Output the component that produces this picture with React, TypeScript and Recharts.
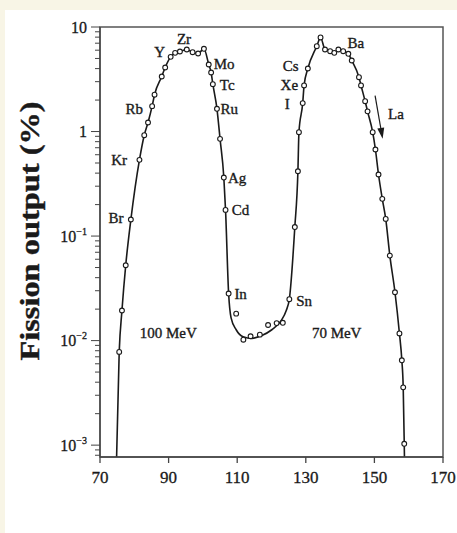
import React from 'react';
import {
  ComposedChart,
  Line,
  Scatter,
  XAxis,
  YAxis,
  ReferenceArea,
  ReferenceDot,
  ReferenceLine,
} from 'recharts';

// Measured points (mass number, fission output %)
const markerMass = [
  75.6, 76.4, 77.5, 79.0, 81.5, 82.9, 84.0, 85.2, 85.9, 88.0, 89.0, 90.6, 91.9, 93.3, 95.3, 97.0,
  98.6, 100.3, 101.7, 102.4, 102.9, 104.1, 105.0, 106.1, 106.6, 107.5, 109.7, 111.8, 113.9, 116.6,
  119.0, 121.5, 123.3, 125.2, 126.8, 127.7, 128.0, 129.1, 129.5, 130.6, 133.2, 134.3, 135.6, 137.1,
  138.3, 139.5, 140.9, 142.4, 143.4, 145.5, 146.1, 147.3, 148.0, 149.5, 150.3, 151.2, 152.3, 153.3,
  154.5, 156.0, 157.3, 158.0, 158.4, 158.7,
];
const markerYield = [
  0.0078, 0.0194, 0.0526, 0.144, 0.536, 0.922, 1.22, 1.75, 2.25, 3.36, 4.1, 5.18, 5.66, 5.83, 6.09,
  5.74, 5.58, 6.19, 4.38, 3.67, 2.84, 1.65, 0.851, 0.363, 0.178, 0.0282, 0.0181, 0.0102, 0.011,
  0.0114, 0.0141, 0.0147, 0.0148, 0.0249, 0.122, 0.417, 0.985, 1.87, 2.76, 4.01, 6.55, 7.94, 6.09,
  5.87, 5.66, 6.09, 5.87, 5.54, 4.78, 3.31, 2.76, 1.95, 1.56, 0.985, 0.673, 0.388, 0.227, 0.146,
  0.065, 0.029, 0.0117, 0.00648, 0.00357, 0.00103,
];

// Fitted curve through the points
const curveMass = [
  74.7, 75.6, 76.4, 77.5, 79.0, 81.5, 82.9, 84.0, 85.2, 85.9, 88.0, 89.0, 90.6, 91.9, 93.3, 95.3,
  97.0, 98.6, 100.3, 101.7, 102.4, 102.9, 104.1, 105.0, 106.1, 106.6, 107.5, 108.2, 109.7, 111.7,
  114.3, 117.2, 120.1, 122.8, 124.3, 125.2, 126.8, 127.7, 128.0, 129.1, 129.5, 130.6, 133.2, 134.3,
  135.6, 137.1, 138.3, 139.5, 140.9, 142.4, 143.4, 145.5, 146.1, 147.3, 148.0, 149.5, 150.3, 151.2,
  152.3, 153.3, 154.5, 156.0, 157.3, 158.0, 158.4, 158.7, 158.85,
];
const curveYield = [
  0.0005, 0.0078, 0.0194, 0.0526, 0.144, 0.536, 0.922, 1.22, 1.75, 2.25, 3.36, 4.1, 5.18, 5.66, 5.83,
  6.09, 5.74, 5.58, 6.19, 4.38, 3.67, 2.84, 1.65, 0.851, 0.363, 0.178, 0.0282, 0.0166, 0.0127,
  0.0109, 0.0105, 0.0112, 0.0127, 0.0155, 0.0194, 0.0249, 0.122, 0.417, 0.985, 1.87, 2.76, 4.01,
  6.55, 7.94, 6.09, 5.87, 5.66, 6.09, 5.87, 5.54, 4.78, 3.31, 2.76, 1.95, 1.56, 0.985, 0.673, 0.388,
  0.227, 0.146, 0.065, 0.029, 0.0117, 0.00648, 0.00357, 0.00103, 0.0005,
];

// Element annotations
const elementNames = [
  'Br', 'Kr', 'Rb', 'Y', 'Zr', 'Mo', 'Tc', 'Ru', 'Ag', 'Cd', 'In', 'Sn', 'Cs', 'Xe', 'I', 'Ba', 'La',
  '100 MeV', '70 MeV',
];
const elementMass = [
  74.7, 75.6, 80.0, 87.4, 94.5, 106.2, 107.1, 107.7, 110.0, 111.0, 111.0, 129.5, 125.6, 125.2, 124.6,
  144.6, 156.3, 89.9, 139.0,
];
const elementYield = [
  0.15, 0.531, 1.65, 5.74, 7.71, 4.38, 2.77, 1.65, 0.361, 0.177, 0.0282, 0.0238, 4.22, 2.76, 1.85,
  7.06, 1.48, 0.01185, 0.01185,
];

// Arrow next to La
const arrowMass = [150.2, 152.4];
const arrowYield = [2.21, 0.851];

// Axes
const xTicks = [70, 90, 110, 130, 150, 170];
const yMajorTicks = [0.001, 0.01, 0.1, 1, 10];
const yTickBase = ['10', '10', '10', '1', '10'];
const yTickExp = ['\u22123', '\u22122', '\u22121', '', ''];
const yMinorTicks = [
  0.0008, 0.0009, 0.002, 0.003, 0.004, 0.005, 0.006, 0.007, 0.008, 0.009, 0.02, 0.03, 0.04, 0.05,
  0.06, 0.07, 0.08, 0.09, 0.2, 0.3, 0.4, 0.5, 0.6, 0.7, 0.8, 0.9, 2, 3, 4, 5, 6, 7, 8, 9,
];
const yMin = 0.00077;
const yMax = 10;
const yTitle = 'Fission output (%)';

const FONT = "'Liberation Serif', 'Times New Roman', serif";
const INK = '#1a1a1a';

const markers = markerMass.map((x, i) => ({ x, y: markerYield[i] }));
const curve = curveMass.map((x, i) => ({ x, y: curveYield[i] }));
const allYTicks = [...yMajorTicks, ...yMinorTicks].sort((a, b) => a - b);

const YTick = (props: any) => {
  const { x, y, payload } = props;
  const v = payload.value;
  const i = yMajorTicks.findIndex((t) => Math.abs(t - v) / t < 1e-6);
  const major = i >= 0;
  return (
    <g>
      <line x1={x} x2={x - (major ? 9 : 5)} y1={y} y2={y} stroke="#444" strokeWidth={1} />
      {major && (
        <text
          x={x - 13}
          y={y}
          dy={5.5}
          textAnchor="end"
          fontFamily={FONT}
          fontSize={16}
          fill={INK}
          stroke={INK}
          strokeWidth={0.3}
        >
          {yTickBase[i]}
          {yTickExp[i] && (
            <tspan dy={-7} fontSize={10}>
              {yTickExp[i]}
            </tspan>
          )}
        </text>
      )}
    </g>
  );
};

const XTick = (props: any) => {
  const { x, y, payload } = props;
  return (
    <text
      x={x}
      y={y + 20}
      textAnchor="middle"
      fontFamily={FONT}
      fontSize={17}
      fill={INK}
      stroke={INK}
      strokeWidth={0.3}
    >
      {payload.value}
    </text>
  );
};

const YTitle = () => (
  <text
    transform="translate(39,231) rotate(-90) scale(1.2,1)"
    textAnchor="middle"
    fontFamily={FONT}
    fontWeight="bold"
    fontSize={27}
    fill={INK}
    stroke={INK}
    strokeWidth={0.4}
  >
    {yTitle}
  </text>
);

const Arrow = (props: any) => {
  const { x1, y1, x2, y2 } = props;
  const dx = x2 - x1;
  const dy = y2 - y1;
  const len = Math.sqrt(dx * dx + dy * dy);
  const ux = dx / len;
  const uy = dy / len;
  const hl = 11;
  const hw = 3.5;
  const bx = x2 - ux * hl;
  const by = y2 - uy * hl;
  return (
    <g>
      <line x1={x1} y1={y1} x2={bx} y2={by} stroke={INK} strokeWidth={1.2} />
      <polygon
        points={`${x2},${y2} ${bx - uy * hw},${by + ux * hw} ${bx + uy * hw},${by - ux * hw}`}
        fill={INK}
      />
    </g>
  );
};

export default function App() {
  return (
    <div
      style={{
        position: 'absolute',
        left: 0,
        top: 0,
        width: 457,
        height: 533,
        background: '#f8f5e6',
      }}
    >
      <div
        style={{ position: 'absolute', left: 5, top: 10, width: 452, height: 523, background: '#ffffff' }}
      />
      <div style={{ position: 'absolute', left: 0, top: 0 }}>
        <ComposedChart
          width={457}
          height={533}
          margin={{ top: 27, right: 14, bottom: 46, left: 40 }}
        >
          <XAxis
            dataKey="x"
            type="number"
            domain={[70, 170]}
            ticks={xTicks}
            interval={0}
            tickSize={6}
            tickMargin={0}
            stroke="#444"
            strokeWidth={1.3}
            tick={<XTick />}
            height={30}
            allowDataOverflow
          />
          <YAxis
            dataKey="y"
            type="number"
            scale="log"
            domain={[yMin, yMax]}
            ticks={allYTicks}
            interval={0}
            tickSize={0}
            tickMargin={0}
            tickLine={false}
            stroke="#444"
            strokeWidth={1.3}
            tick={<YTick />}
            width={60}
            allowDataOverflow
            label={<YTitle />}
          />
          <ReferenceArea
            x1={70}
            x2={170}
            y1={yMin}
            y2={yMax}
            fill="none"
            stroke="#555"
            strokeWidth={1.5}
          />
          <Line
            data={curve}
            dataKey="y"
            type="monotone"
            stroke={INK}
            strokeWidth={1.6}
            dot={false}
            activeDot={false}
            isAnimationActive={false}
          />
          <Scatter
            data={markers}
            dataKey="y"
            isAnimationActive={false}
            shape={(p: any) => (
              <circle cx={p.cx} cy={p.cy} r={2.4} fill="#fff" stroke={INK} strokeWidth={1.1} />
            )}
          />
          <ReferenceLine
            segment={[
              { x: arrowMass[0], y: arrowYield[0] },
              { x: arrowMass[1], y: arrowYield[1] },
            ]}
            shape={<Arrow />}
          />
          {elementNames.map((n, i) => (
            <ReferenceDot
              key={n}
              x={elementMass[i]}
              y={elementYield[i]}
              r={0}
              shape={(p: any) => (
                <text
                  x={p.cx}
                  y={p.cy}
                  dy={5}
                  textAnchor="middle"
                  fontFamily={FONT}
                  fontSize={15}
                  fill={INK}
                  stroke={INK}
                  strokeWidth={0.35}
                >
                  {n}
                </text>
              )}
            />
          ))}
        </ComposedChart>
      </div>
    </div>
  );
}
